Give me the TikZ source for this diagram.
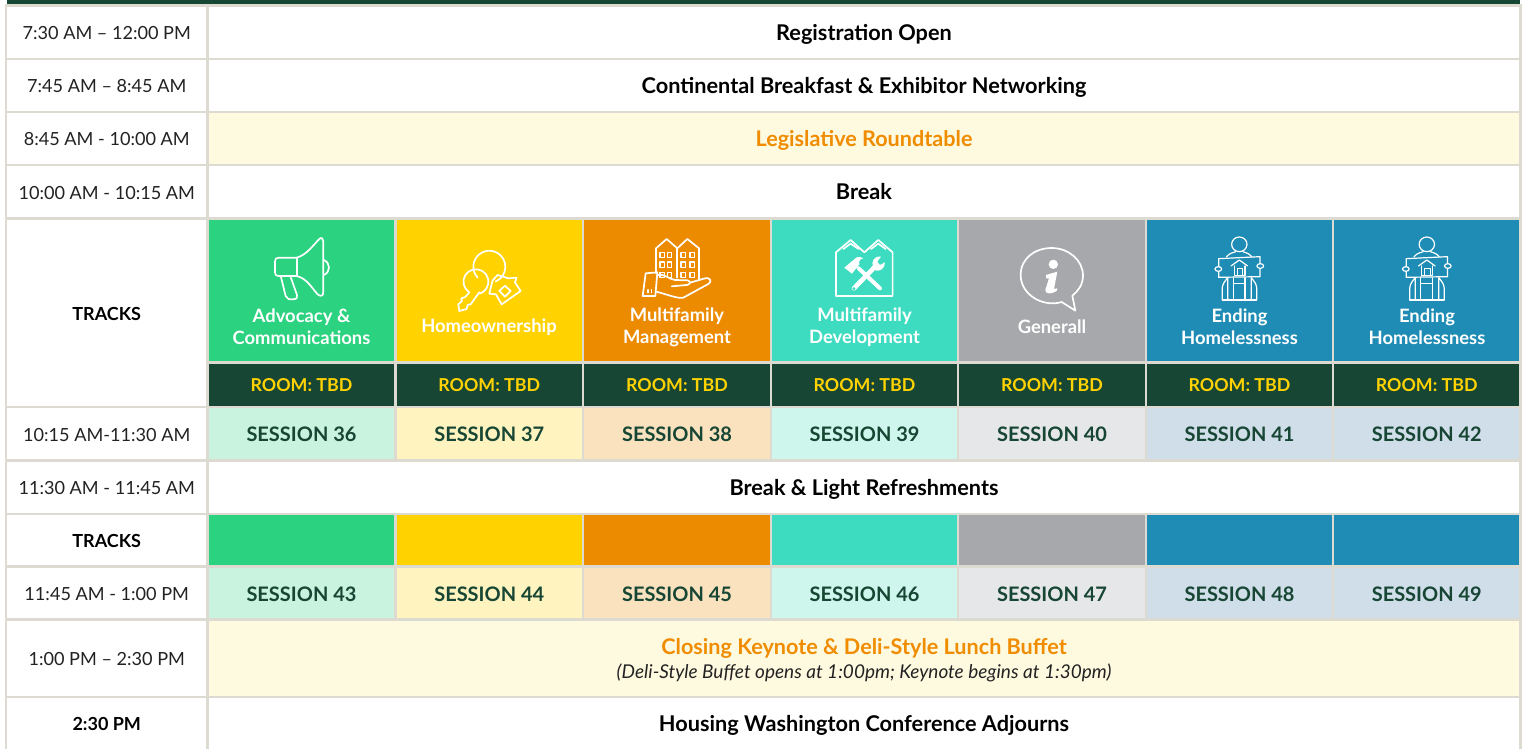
\documentclass[tikz,border=0pt]{standalone}
\usepackage{fontspec}
\setmainfont{Lato}
\definecolor{gridc}{HTML}{DDDAD2}
\definecolor{darkg}{HTML}{174634}
\definecolor{cgreen}{HTML}{2BD27F}
\definecolor{cyellow}{HTML}{FFD200}
\definecolor{corange}{HTML}{EC8A00}
\definecolor{cteal}{HTML}{3DDBC0}
\definecolor{cgrey}{HTML}{A7A8AB}
\definecolor{cblue}{HTML}{1F8CB5}
\definecolor{tgreen}{HTML}{C9F2DF}
\definecolor{tyellow}{HTML}{FFF3BF}
\definecolor{torange}{HTML}{FAE2BF}
\definecolor{tteal}{HTML}{CEF6EC}
\definecolor{tgrey}{HTML}{E6E7E8}
\definecolor{tblue}{HTML}{D0DEE9}
\definecolor{band}{HTML}{FEFAE0}
\definecolor{otext}{HTML}{F08C00}
\definecolor{timec}{HTML}{222222}
\tikzset{
  cellbox/.style={draw=gridc,line width=2.5pt,inner sep=0pt,text depth=0pt,anchor=center},
  timetext/.style={font=\fontsize{18.1}{20}\selectfont,text=timec,text height=14.5pt},
  boldtext/.style={font=\fontsize{21.7}{24}\selectfont\bfseries,text=black,text height=15.6pt},
  orangetext/.style={font=\fontsize{21.6}{24}\selectfont\bfseries,text=otext,text height=15.6pt},
  smallbold/.style={font=\fontsize{18}{20}\selectfont\bfseries,text=black,text height=14.5pt},
  roomtext/.style={font=\fontsize{17.8}{20}\selectfont\bfseries,text=cyellow,text height=12.8pt},
  sesstext/.style={font=\fontsize{20}{22}\selectfont\bfseries,text=darkg,text height=16pt},
  tracktext/.style={font=\fontsize{18.4}{22}\selectfont\bfseries,text=white,align=center,inner sep=0pt},
  iconline/.style={draw=white,line width=1.7pt,line join=round,line cap=round,fill=none},
  iconthin/.style={draw=white,line width=1.2pt,line join=round,line cap=round,fill=none},
  iconsolid/.style={fill=white,draw=none},
}
\newcommand{\cellnode}[8]{%
  \node[cellbox,fill=#6,minimum width={#4-#2},minimum height={#5-#3},#7] (#1) at ({(#2+#4)/2},{(#3+#5)/2}) {#8};}
\newcommand{\personicon}[1]{%
  \begin{scope}[shift={(#1,215)},x=0.3333pt,y=-0.3333pt]
    \draw[iconthin] (868,88) ellipse (23 and 22);
    \draw[iconthin] (830,125) .. controls (838,115) and (848,113) .. (857,110);
    \draw[iconthin] (905,125) .. controls (897,115) and (888,113) .. (879,110);
    \draw[iconthin] (806,131) -- (930,125) -- (930,185) -- (806,187) -- cycle;
    \draw[iconthin,fill=cblue] (795,162) arc (180:-180:10 and 7);
    \draw[iconthin,fill=cblue] (921,153) arc (180:-180:10 and 7);
    \draw[iconthin] (843,153) -- (868,135) -- (893,153);
    \draw[iconthin] (853,153) -- (853,182) -- (885,182) -- (885,153);
    \draw[iconthin] (862,160) rectangle (878,181);
    \draw[iconthin] (817,255) -- (817,218) .. controls (818,205) and (826,198) .. (833,188) -- (833,255);
    \draw[iconthin] (920,255) -- (920,218) .. controls (919,205) and (911,198) .. (904,188) -- (904,255);
    \draw[iconthin] (817,255) -- (920,255);
    \draw[iconthin] (850,188) -- (850,255) (885,188) -- (885,255) (850,205) -- (885,205);
  \end{scope}}
\begin{document}
\begin{tikzpicture}[x=1pt,y=-1pt]
\useasboundingbox (0,0) rectangle (1525,749);
\fill[white] (0,0) rectangle (1525,749);
\node[fill=darkg,minimum width=1513,minimum height=4.5,inner sep=0pt] (topband) at (763.5,2.2) {};
% rows 1-4
\cellnode{t1}{6}{5.5}{207.5}{59}{white}{timetext}{7:30 AM – 12:00 PM}
\cellnode{c1}{207.5}{5.5}{1520.5}{59}{white}{boldtext}{Registration Open}
\cellnode{t2}{6}{59}{207.5}{112}{white}{timetext}{7:45 AM – 8:45 AM}
\cellnode{c2}{207.5}{59}{1520.5}{112}{white}{boldtext}{Continental Breakfast \& Exhibitor Networking}
\cellnode{t3}{6}{112}{207.5}{165}{white}{timetext}{8:45 AM - 10:00 AM}
\cellnode{c3}{207.5}{112}{1520.5}{165}{band}{orangetext}{Legislative Roundtable}
\cellnode{t4}{6}{165}{207.5}{218.5}{white}{timetext}{10:00 AM - 10:15 AM}
\cellnode{c4}{207.5}{165}{1520.5}{218.5}{white}{boldtext}{Break}
\cellnode{tr1}{6}{218.5}{207.5}{407}{white}{smallbold}{TRACKS}
% track headers
\cellnode{a1}{207.5}{218.5}{395.5}{362.5}{cgreen}{}{}
\cellnode{a2}{395.5}{218.5}{583}{362.5}{cyellow}{}{}
\cellnode{a3}{583}{218.5}{771}{362.5}{corange}{}{}
\cellnode{a4}{771}{218.5}{958}{362.5}{cteal}{}{}
\cellnode{a5}{958}{218.5}{1146}{362.5}{cgrey}{}{}
\cellnode{a6}{1146}{218.5}{1333}{362.5}{cblue}{}{}
\cellnode{a7}{1333}{218.5}{1520.5}{362.5}{cblue}{}{}
\node[tracktext] (la1) at (301.5,329) {\strut Advocacy \&\\\strut Communications};
\node[tracktext] (la2) at (489,328) {\strut Homeownership};
\node[tracktext] (la3) at (677,328) {\strut Multifamily\\\strut Management};
\node[tracktext] (la4) at (864.5,328) {\strut Multifamily\\\strut Development};
\node[tracktext] (la5) at (1052,329) {\strut Generall};
\node[tracktext] (la6) at (1239.5,329) {\strut Ending\\\strut Homelessness};
\node[tracktext] (la7) at (1427,329) {\strut Ending\\\strut Homelessness};
% rooms
\cellnode{b1}{207.5}{362.5}{395.5}{407}{darkg}{roomtext}{ROOM: TBD}
\cellnode{b2}{395.5}{362.5}{583}{407}{darkg}{roomtext}{ROOM: TBD}
\cellnode{b3}{583}{362.5}{771}{407}{darkg}{roomtext}{ROOM: TBD}
\cellnode{b4}{771}{362.5}{958}{407}{darkg}{roomtext}{ROOM: TBD}
\cellnode{b5}{958}{362.5}{1146}{407}{darkg}{roomtext}{ROOM: TBD}
\cellnode{b6}{1146}{362.5}{1333}{407}{darkg}{roomtext}{ROOM: TBD}
\cellnode{b7}{1333}{362.5}{1520.5}{407}{darkg}{roomtext}{ROOM: TBD}
% sessions 1
\cellnode{t5}{6}{407}{207.5}{460.5}{white}{timetext}{10:15 AM-11:30 AM}
\cellnode{s36}{207.5}{407}{395.5}{460.5}{tgreen}{sesstext}{SESSION 36}
\cellnode{s37}{395.5}{407}{583}{460.5}{tyellow}{sesstext}{SESSION 37}
\cellnode{s38}{583}{407}{771}{460.5}{torange}{sesstext}{SESSION 38}
\cellnode{s39}{771}{407}{958}{460.5}{tteal}{sesstext}{SESSION 39}
\cellnode{s40}{958}{407}{1146}{460.5}{tgrey}{sesstext}{SESSION 40}
\cellnode{s41}{1146}{407}{1333}{460.5}{tblue}{sesstext}{SESSION 41}
\cellnode{s42}{1333}{407}{1520.5}{460.5}{tblue}{sesstext}{SESSION 42}
\cellnode{t6}{6}{460.5}{207.5}{514}{white}{timetext}{11:30 AM - 11:45 AM}
\cellnode{c6}{207.5}{460.5}{1520.5}{514}{white}{boldtext}{Break \& Light Refreshments}
% tracks 2
\cellnode{tr2}{6}{514}{207.5}{566.5}{white}{smallbold}{TRACKS}
\cellnode{d1}{207.5}{514}{395.5}{566.5}{cgreen}{}{}
\cellnode{d2}{395.5}{514}{583}{566.5}{cyellow}{}{}
\cellnode{d3}{583}{514}{771}{566.5}{corange}{}{}
\cellnode{d4}{771}{514}{958}{566.5}{cteal}{}{}
\cellnode{d5}{958}{514}{1146}{566.5}{cgrey}{}{}
\cellnode{d6}{1146}{514}{1333}{566.5}{cblue}{}{}
\cellnode{d7}{1333}{514}{1520.5}{566.5}{cblue}{}{}
% sessions 2
\cellnode{t7}{6}{566.5}{207.5}{619.5}{white}{timetext}{11:45 AM - 1:00 PM}
\cellnode{s43}{207.5}{566.5}{395.5}{619.5}{tgreen}{sesstext}{SESSION 43}
\cellnode{s44}{395.5}{566.5}{583}{619.5}{tyellow}{sesstext}{SESSION 44}
\cellnode{s45}{583}{566.5}{771}{619.5}{torange}{sesstext}{SESSION 45}
\cellnode{s46}{771}{566.5}{958}{619.5}{tteal}{sesstext}{SESSION 46}
\cellnode{s47}{958}{566.5}{1146}{619.5}{tgrey}{sesstext}{SESSION 47}
\cellnode{s48}{1146}{566.5}{1333}{619.5}{tblue}{sesstext}{SESSION 48}
\cellnode{s49}{1333}{566.5}{1520.5}{619.5}{tblue}{sesstext}{SESSION 49}
% closing
\cellnode{t8}{6}{619.5}{207.5}{697}{white}{timetext}{1:00 PM – 2:30 PM}
\cellnode{c8}{207.5}{619.5}{1520.5}{697}{band}{}{}
\node[orangetext,inner sep=0pt,text depth=0pt] (k1) at (864,647) {Closing Keynote \& Deli-Style Lunch Buffet};
\node[inner sep=0pt,font=\fontsize{19}{20}\selectfont\itshape,text=timec,text height=13.5pt,text depth=0pt] (k2) at (864,672) {(Deli-Style Buffet opens at 1:00pm; Keynote begins at 1:30pm)};
\cellnode{t9}{6}{697}{207.5}{750}{white}{smallbold}{2:30 PM}
\cellnode{c9}{207.5}{697}{1520.5}{750}{white}{boldtext}{Housing Washington Conference Adjourns}
% megaphone
\begin{scope}[shift={(200,215)},x=0.3333pt,y=-0.3333pt]
  \draw[iconline] (290,128) -- (236,128) .. controls (228,128) and (225,132) .. (225,140) -- (225,172) .. controls (225,180) and (228,183) .. (236,183) -- (290,183);
  \draw[iconline] (290,128) -- (290,183);
  \draw[iconline] (290,128) .. controls (320,120) and (340,90) .. (358,72) .. controls (364,66) and (370,70) .. (370,78) -- (370,232) .. controls (370,245) and (360,245) .. (352,237) .. controls (335,218) and (320,190) .. (290,183);
  \draw[iconline] (372,135) .. controls (392,145) and (392,170) .. (372,180);
  \draw[iconline] (243,186) -- (257,243) .. controls (260,252) and (268,254) .. (280,253) .. controls (290,252) and (294,248) .. (291,240) -- (272,186);
  % keys
  \draw[iconline] (833,188) arc (137:427:48);
  \draw[iconline] (808,232) arc (122:432:37.5);
  \draw[iconline] (808,232) -- (796,246) -- (784,250) -- (786,258) -- (775,268) -- (778,288) -- (800,282) -- (803,270) -- (812,268) -- (838,232);
  \draw[iconline] (878,196) -- (893,180) -- (925,190) -- (950,188) -- (945,202) -- (962,228) -- (905,268) -- (888,238) -- (868,236) -- cycle;
  \draw[iconline] (898,228) -- (915,212) -- (932,228) -- (915,245) -- cycle;
\end{scope}
% buildings and hand, tools
\begin{scope}[shift={(580,215)},x=0.3333pt,y=-0.3333pt]
  \draw[iconline] (228,175) -- (228,100) -- (260,72) -- (292,100) -- (322,72) -- (357,100) -- (357,195);
  \draw[iconline] (292,100) -- (292,188);
  \foreach \wx in {240,262,303,330}{
    \foreach \wy in {112,141,172}{
      \draw[iconthin] (\wx,\wy) rectangle ++(13,16);
    }
  }
  \draw[iconline] (197,175) -- (232,172) -- (226,243) -- (188,243) -- cycle;
  \draw[iconthin] (204,224) -- (204,233) (214,224) -- (214,233);
  \draw[iconline] (232,180) .. controls (255,176) and (265,192) .. (285,195) -- (322,196) .. controls (335,198) and (330,210) .. (320,210) -- (275,214);
  \draw[iconline] (330,203) -- (375,190) .. controls (390,186) and (398,200) .. (385,207) -- (310,248) .. controls (295,252) and (260,238) .. (229,230);
  % tools
  \draw[iconline] (768,243) -- (768,112) -- (812,75) -- (853,112) -- (895,75) -- (938,112) -- (938,243) -- cycle;
  \draw[iconline] (790,102) -- (812,86) -- (836,102);
  \draw[iconline] (873,102) -- (895,86) -- (917,102);
  \draw[line width=4.6pt,white,line cap=round] (822,220) -- (888,152);
  \draw[line width=4pt,white,line cap=round] (900,220) -- (836,160);
  \fill[white] (793,158) -- (830,127) .. controls (838,125) and (846,126) .. (850,130) .. controls (840,132) and (836,138) .. (838,148) -- (816,176) -- cycle;
  \fill[white] (880,158) .. controls (872,140) and (882,122) .. (903,125) -- (892,140) -- (900,150) -- (915,142) .. controls (915,162) and (898,172) .. (882,165) -- cycle;
  \fill[cteal] (822,221) circle (5);
\end{scope}
% info bubble
\begin{scope}[shift={(950,215)},x=0.3333pt,y=-0.3333pt]
  \draw[iconline] (335,261) .. controls (280,278) and (212,240) .. (212,180) .. controls (212,130) and (255,99) .. (305,99) .. controls (355,99) and (399,135) .. (399,182) .. controls (399,208) and (385,228) .. (367,242) -- (376,287) -- cycle;
  \fill[iconsolid] (310,148) circle (14);
  \fill[iconsolid] (288,180) -- (322,170) -- (312,222) -- (322,220) -- (320,228) .. controls (305,238) and (285,238) .. (286,225) -- (297,190) -- (288,190) -- cycle;
\end{scope}
\personicon{950}
\personicon{1137.5}
\end{tikzpicture}
\end{document}
